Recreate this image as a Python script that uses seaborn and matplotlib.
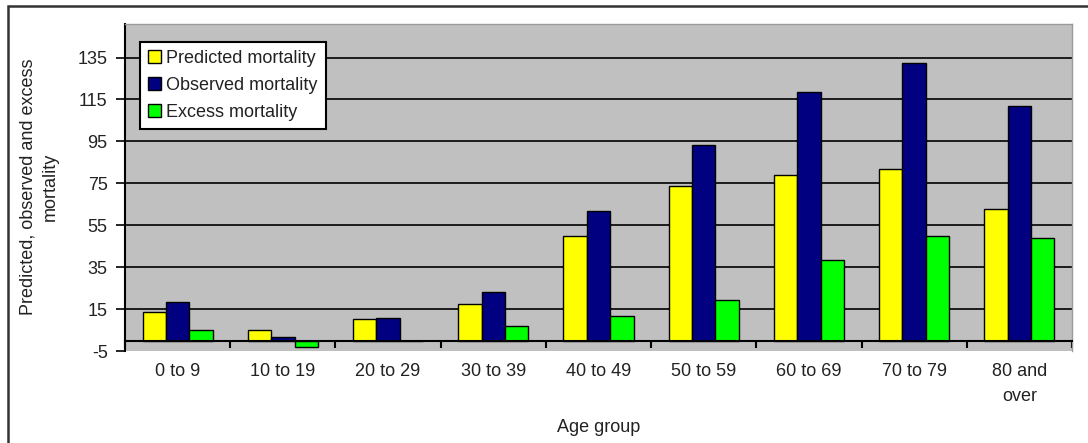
import numpy as np
import pandas as pd
import matplotlib
matplotlib.use("Agg")
import matplotlib.pyplot as plt
from matplotlib.patches import Rectangle
from matplotlib.ticker import FixedLocator
import seaborn as sns

# ---- data ----
age_groups = ["0 to 9", "10 to 19", "20 to 29", "30 to 39", "40 to 49",
              "50 to 59", "60 to 69", "70 to 79", "80 and\nover"]
predicted = [13.5, 4.8, 10.4, 17.5, 50.0, 73.6, 79.2, 81.9, 62.9]
observed = [18.6, 1.9, 10.8, 23.2, 62.0, 93.5, 118.4, 132.6, 111.7]
excess = [5.0, -3.2, 0.0, 6.8, 11.6, 19.2, 38.4, 49.7, 48.7]
series_names = ["Predicted mortality", "Observed mortality", "Excess mortality"]
y_ticks = [-5, 15, 35, 55, 75, 95, 115, 135]

df = pd.DataFrame({
    "Age group": age_groups * 3,
    "Series": [series_names[0]] * 9 + [series_names[1]] * 9 + [series_names[2]] * 9,
    "value": predicted + observed + excess,
})

sns.set_style("ticks")
plt.rcParams["font.family"] = ["Liberation Sans", "DejaVu Sans"]
FS = 13
plt.rcParams["font.size"] = FS
text_color = "#222222"

fig = plt.figure(figsize=(10.88, 4.43), dpi=100)
fig.patch.set_facecolor("white")
ax = fig.add_axes([125 / 1088, 1 - 351 / 443, (1072 - 125) / 1088, (351 - 24) / 443])
ax.set_facecolor("#C0C0C0")

palette = {series_names[0]: "#FFFF00", series_names[1]: "#000080", series_names[2]: "#00FF00"}
sns.barplot(data=df, x="Age group", y="value", hue="Series", order=age_groups,
            hue_order=series_names, palette=palette, width=0.667, gap=0,
            edgecolor="black", linewidth=1, saturation=1, ax=ax, zorder=3)

ax.set_xlim(-0.5, len(age_groups) - 0.5)
ax.set_ylim(-5, 151)
ax.set_yticks(y_ticks)
ax.set_yticklabels([str(v) for v in y_ticks], color=text_color, fontsize=FS)

# gridlines
ax.set_axisbelow(True)
ax.yaxis.grid(True, color="black", linewidth=1.2)
gl = ax.get_ygridlines()
gl[0].set_visible(False)

# spines
ax.spines["left"].set_color("black")
ax.spines["left"].set_linewidth(1.5)
ax.spines["bottom"].set_position(("data", 0))
ax.spines["bottom"].set_color("black")
ax.spines["bottom"].set_linewidth(1.5)
ax.spines["bottom"].set_zorder(4)
for s in ("top", "right"):
    ax.spines[s].set_visible(True)
    ax.spines[s].set_color("#9a9a9a")
    ax.spines[s].set_linewidth(1)

ax.tick_params(axis="y", direction="out", length=6.5, width=1.2, pad=6, colors="black",
               labelcolor=text_color)
ax.set_xticks(range(len(age_groups)))
ax.set_xticklabels(age_groups, color=text_color, fontsize=FS, linespacing=1.6, va="top")
ax.tick_params(axis="x", which="major", length=0, pad=16)
ax.xaxis.set_minor_locator(FixedLocator(np.arange(-0.5, len(age_groups), 1.0)))
ax.tick_params(axis="x", which="minor", direction="out", length=5, width=1.5, color="black")

ax.set_xlabel("")
ax.set_ylabel("")

# legend
handles, labels = ax.get_legend_handles_labels()
ax.legend(handles, labels, loc="upper left", bbox_to_anchor=(140 / 1088, 1 - 42 / 443),
          bbox_transform=fig.transFigure, frameon=True, fancybox=False,
          edgecolor="black", facecolor="white", framealpha=1, fontsize=FS,
          handlelength=0.7, handleheight=0.7, handletextpad=0.3, labelspacing=0.55,
          borderpad=0.45, borderaxespad=0, labelcolor=text_color)
ax.get_legend().get_frame().set_linewidth(1.5)

# axis titles
fig.text(39.5 / 1088, 1 - 187 / 443, "Predicted, observed and excess\nmortality",
         rotation=90, ha="center", va="center", multialignment="center",
         fontsize=FS, color=text_color, linespacing=1.4)
fig.text(598.5 / 1088, 1 - 428 / 443, "Age group", ha="center", va="center",
         fontsize=FS, color=text_color)

# outer chart border (extends past right and bottom edges, as in the reference)
top = 1 - 6 / 443
fig.add_artist(Rectangle((8 / 1088, -0.2), 1.2, top + 0.2, transform=fig.transFigure,
                         fill=False, edgecolor="#333333", linewidth=1.8, clip_on=False))

fig.savefig("out.png", dpi=100)
